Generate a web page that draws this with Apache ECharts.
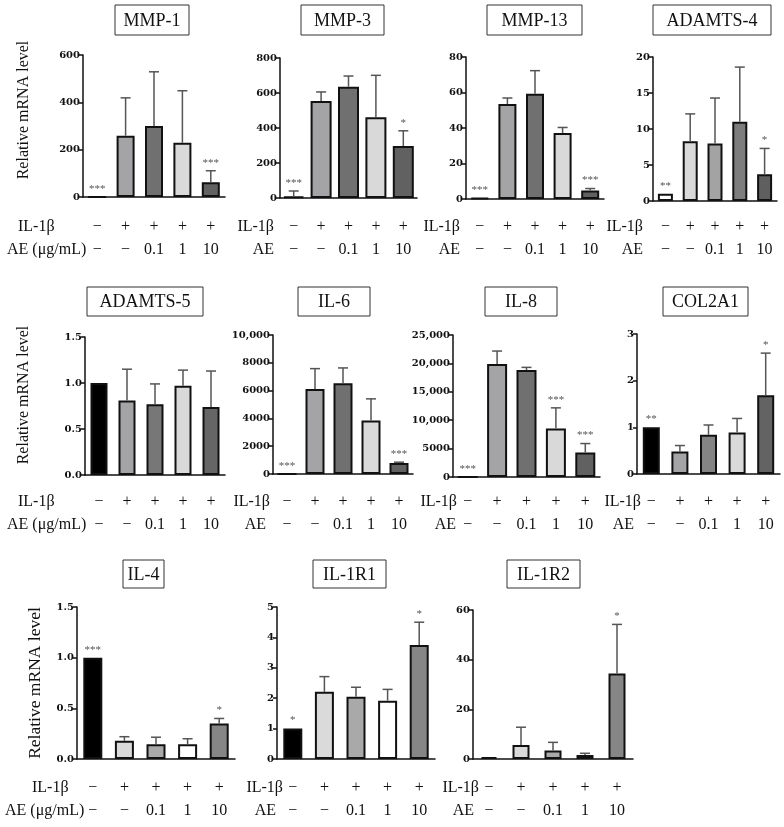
<!DOCTYPE html>
<html>
<head>
<meta charset="utf-8">
<script src="https://cdn.jsdelivr.net/npm/echarts@6/dist/echarts.min.js"></script>
<style>
  * { margin: 0; padding: 0; }
  body { background: #ffffff; }
  #chart { width: 784px; height: 827px; }
</style>
</head>
<body>
<div id="chart"></div>
<script>
// treatment groups under every panel
const il1bRow = ['−', '+', '+', '+', '+'];
const aeRow = ['−', '−', '0.1', '1', '10'];

const genes = ['MMP-1', 'MMP-3', 'MMP-13', 'ADAMTS-4', 'ADAMTS-5', 'IL-6', 'IL-8', 'COL2A1', 'IL-4', 'IL-1R1', 'IL-1R2'];

// mean, top of error bar (mean + SD), significance marks
const mmp1Mean = [0, 259, 300, 229, 62];
const mmp1Err = [0, 419, 529, 449, 111];
const mmp1Sig = ['***', '', '', '', '***'];

const mmp3Mean = [8, 554, 636, 461, 297];
const mmp3Err = [40, 606, 697, 701, 384];
const mmp3Sig = ['***', '', '', '', '*'];

const mmp13Mean = [0.5, 53.5, 59.3, 37.2, 4.8];
const mmp13Err = [0.5, 56.9, 72.3, 40.3, 5.9];
const mmp13Sig = ['***', '', '', '', '***'];

const adamts4Mean = [1, 8.3, 8.0, 11.0, 3.7];
const adamts4Err = [1, 12.1, 14.3, 18.6, 7.3];
const adamts4Sig = ['**', '', '', '', '*'];

const adamts5Mean = [1.0, 0.81, 0.77, 0.97, 0.74];
const adamts5Err = [1.0, 1.15, 0.99, 1.14, 1.13];
const adamts5Sig = ['', '', '', '', ''];

const il6Mean = [0, 6124, 6533, 3848, 790];
const il6Err = [0, 7581, 7631, 5406, 850];
const il6Sig = ['***', '', '', '', '***'];

const il8Mean = [0, 19885, 18827, 8540, 4304];
const il8Err = [0, 22176, 19300, 12173, 5890];
const il8Sig = ['***', '', '', '***', '***'];

const col2a1Mean = [1.0, 0.48, 0.84, 0.89, 1.69];
const col2a1Err = [1.0, 0.61, 1.05, 1.19, 2.59];
const col2a1Sig = ['**', '', '', '', '*'];

const il4Mean = [1.0, 0.18, 0.145, 0.145, 0.35];
const il4Err = [1.0, 0.22, 0.215, 0.20, 0.40];
const il4Sig = ['***', '', '', '', '*'];

const il1r1Mean = [1.0, 2.21, 2.05, 1.92, 3.75];
const il1r1Err = [1.0, 2.71, 2.36, 2.29, 4.5];
const il1r1Sig = ['*', '', '', '', '*'];

const il1r2Mean = [0.8, 5.6, 3.4, 1.6, 34.4];
const il1r2Err = [0.8, 12.8, 6.7, 2.3, 54.2];
const il1r2Sig = ['', '', '', '', '*'];

// y axis: max and tick step
const yMax = [600, 800, 80, 20, 1.5, 10000, 25000, 3, 1.5, 5, 60];
const yStep = [200, 200, 20, 5, 0.5, 2000, 5000, 1, 0.5, 1, 20];

const means = [mmp1Mean, mmp3Mean, mmp13Mean, adamts4Mean, adamts5Mean, il6Mean, il8Mean, col2a1Mean, il4Mean, il1r1Mean, il1r2Mean];
const errs = [mmp1Err, mmp3Err, mmp13Err, adamts4Err, adamts5Err, il6Err, il8Err, col2a1Err, il4Err, il1r1Err, il1r2Err];
const sigs = [mmp1Sig, mmp3Sig, mmp13Sig, adamts4Sig, adamts5Sig, il6Sig, il8Sig, col2a1Sig, il4Sig, il1r1Sig, il1r2Sig];

// bar fills
const palA = ['#ffffff', '#a4a4a6', '#707070', '#d9d9d9', '#616161'];
const palB = ['#ffffff', '#d9d9d9', '#a3a3a3', '#7d7d7d', '#5f5f5f'];
const palC = ['#000000', '#a4a4a6', '#777777', '#d9d9d9', '#666666'];
const palD = ['#000000', '#a4a4a6', '#848484', '#d9d9d9', '#636363'];
const palE = ['#000000', '#dadada', '#a9a9a9', '#ffffff', '#868686'];
const palettes = [palA, palA, palA, palB, palC, palA, palA, palD, palE, palE, palE];

// layout: grid [left, top, width, height], bar width, y of first label row,
// x of the row names (left edge in first column, right edge elsewhere), title box [x, y, w, h]
const layout = [
  { g: [83, 55, 142, 142], bw: 18, ry: 227, nx: [18, 7], box: [115, 5, 74, 30] },
  { g: [280, 58, 137, 140], bw: 21, ry: 227, nx: [274, 274], box: [301, 5, 83, 30] },
  { g: [466, 57, 138, 142], bw: 18, ry: 227, nx: [460, 460], box: [487, 5, 95, 30] },
  { g: [653, 57, 124, 144], bw: 15, ry: 227, nx: [643, 643], box: [653, 5, 118, 30] },
  { g: [85, 337, 140, 138], bw: 17, ry: 502, nx: [18, 7], box: [87, 287, 116, 29] },
  { g: [273, 335, 140, 139], bw: 19, ry: 502, nx: [270, 266], box: [298, 287, 72, 29] },
  { g: [453, 335, 147, 142], bw: 20, ry: 502, nx: [457, 456], box: [485, 287, 72, 29] },
  { g: [637, 334, 143, 140], bw: 17, ry: 502, nx: [641, 634], box: [663, 287, 85, 29] },
  { g: [77, 607, 158, 152], bw: 19, ry: 788, nx: [32, 5], box: [123, 560, 41, 28] },
  { g: [277, 607, 158, 152], bw: 19, ry: 788, nx: [283, 276], box: [313, 560, 73, 28] },
  { g: [473, 610, 160, 149], bw: 17, ry: 788, nx: [479, 474], box: [507, 560, 73, 28] }
];
const yNamePos = [[24, 110], [24, 395], [35, 683]];

const SERIF = 'Liberation Serif';
const categories = il1bRow.map((s, i) => s + '\n' + aeRow[i]);

const fmtTick = (decimals) => (v) => {
  if (decimals) return v.toFixed(1);
  if (v >= 10000) return v.toLocaleString('en-US');
  return String(v);
};

const grid = [], xAxis = [], yAxis = [], series = [], graphic = [];

genes.forEach((gene, i) => {
  const L = layout[i];
  const [left, top, width, height] = L.g;
  const axisY = top + height;
  grid.push({ left, top, width, height });

  xAxis.push({
    type: 'category',
    gridIndex: i,
    data: categories,
    axisLine: { lineStyle: { color: '#111', width: 1.5 } },
    axisTick: { alignWithLabel: true, length: 5, lineStyle: { color: '#111', width: 1.5 } },
    axisLabel: {
      interval: 0,
      margin: L.ry - 11.5 - axisY,
      fontFamily: SERIF,
      fontSize: 16,
      lineHeight: 23,
      color: '#111'
    }
  });

  const decimals = yStep[i] < 1;
  yAxis.push({
    type: 'value',
    gridIndex: i,
    min: 0,
    max: yMax[i],
    interval: yStep[i],
    splitLine: { show: false },
    axisLine: { show: true, lineStyle: { color: '#111', width: 1.5 } },
    axisTick: { show: true, length: 4, lineStyle: { color: '#111', width: 1.5 } },
    axisLabel: {
      formatter: fmtTick(decimals),
      fontFamily: 'DejaVu Serif',
      fontWeight: 'bold',
      fontSize: 10,
      margin: 3,
      color: '#111'
    }
  });

  const pal = palettes[i];
  series.push({
    type: 'bar',
    xAxisIndex: i,
    yAxisIndex: i,
    barWidth: L.bw,
    silent: true,
    itemStyle: { borderColor: '#111', borderWidth: 2 },
    data: means[i].map((v, j) => ({ value: v, itemStyle: { color: pal[j] } }))
  });

  // one-sided error bars plus significance marks
  series.push({
    type: 'custom',
    xAxisIndex: i,
    yAxisIndex: i,
    silent: true,
    z: 3,
    encode: { x: 0, y: 1 },
    data: means[i].map((v, j) => [j, v, errs[i][j]]),
    renderItem: (params, api) => {
      const j = api.value(0);
      const m = api.value(1);
      const e = api.value(2);
      const star = sigs[i][j];
      const p0 = api.coord([j, m]);
      const p1 = api.coord([j, e]);
      const children = [];
      if (e > m) {
        children.push({
          type: 'line',
          shape: { x1: p0[0], y1: p0[1], x2: p1[0], y2: p1[1] },
          style: { stroke: '#555', lineWidth: 1.5 }
        });
        children.push({
          type: 'line',
          shape: { x1: p1[0] - 5, y1: p1[1], x2: p1[0] + 5, y2: p1[1] },
          style: { stroke: '#555', lineWidth: 1.5 }
        });
      }
      if (star) {
        const yTop = Math.min(p0[1], p1[1]);
        children.push({
          type: 'text',
          x: p1[0],
          y: yTop - 8,
          style: {
            text: star,
            align: 'center',
            verticalAlign: 'middle',
            fontFamily: SERIF,
            fontSize: 11,
            fill: '#555'
          }
        });
      }
      return { type: 'group', children };
    }
  });

  // title box
  const [bx, by, bw, bh] = L.box;
  graphic.push({
    type: 'rect',
    shape: { x: bx, y: by, width: bw, height: bh },
    style: { fill: '#fff', stroke: '#333', lineWidth: 1 }
  });
  graphic.push({
    type: 'text',
    x: bx + bw / 2,
    y: by + bh / 2 + 1,
    style: {
      text: gene,
      align: 'center',
      verticalAlign: 'middle',
      fontFamily: SERIF,
      fontSize: 18,
      fill: '#111'
    }
  });

  // row names of the treatment table
  const firstCol = i === 0 || i === 4 || i === 8;
  const align = firstCol ? 'left' : 'right';
  graphic.push({
    type: 'text',
    x: L.nx[0],
    y: L.ry,
    style: { text: 'IL-1β', align, verticalAlign: 'middle', fontFamily: SERIF, fontSize: 16, fill: '#111' }
  });
  graphic.push({
    type: 'text',
    x: L.nx[1],
    y: L.ry + 23,
    style: { text: firstCol ? 'AE (μg/mL)' : 'AE', align, verticalAlign: 'middle', fontFamily: SERIF, fontSize: 16, fill: '#111' }
  });
});

yNamePos.forEach(([x, y], k) => {
  graphic.push({
    type: 'text',
    x,
    y,
    rotation: Math.PI / 2,
    style: {
      text: 'Relative mRNA level',
      align: 'center',
      verticalAlign: 'middle',
      fontFamily: SERIF,
      fontSize: k === 2 ? 17.5 : 16,
      fill: '#111'
    }
  });
});

const chart = echarts.init(document.getElementById('chart'));
chart.setOption({
  backgroundColor: '#ffffff',
  animation: false,
  grid,
  xAxis,
  yAxis,
  series,
  graphic
});
</script>
</body>
</html>
